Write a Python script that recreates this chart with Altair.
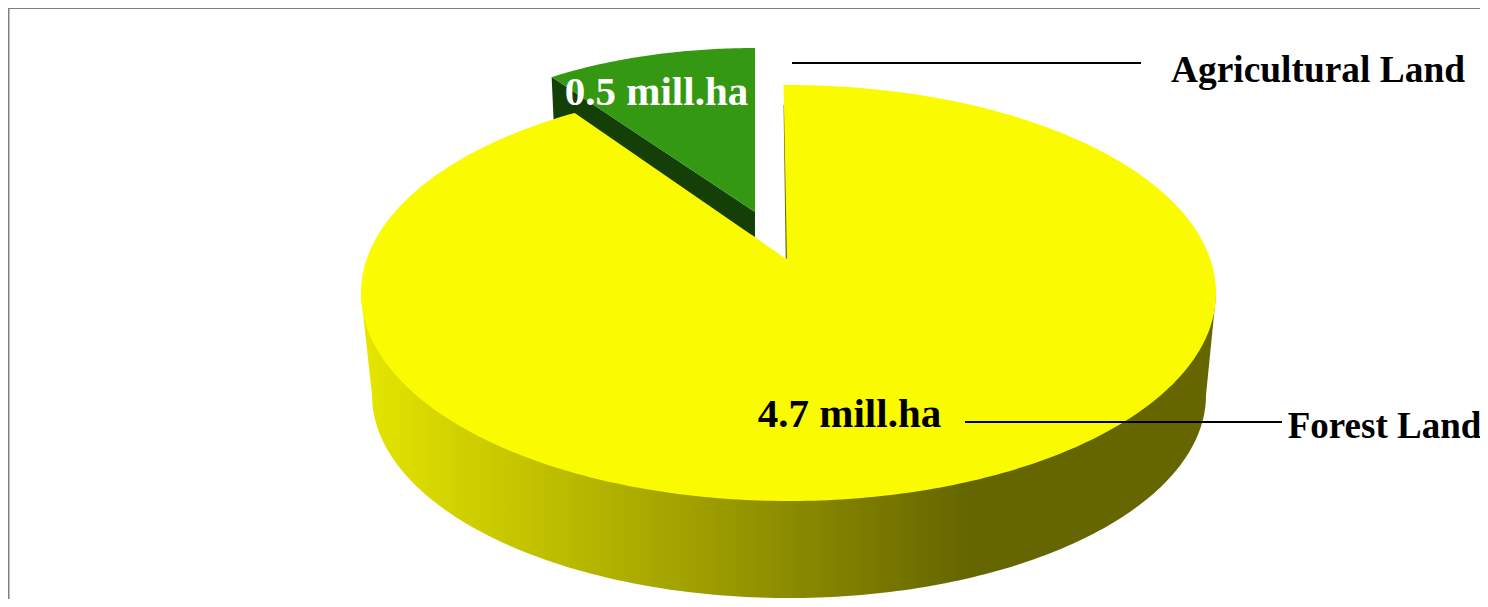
import math
import altair as alt
import pandas as pd

CATEGORIES = ["Forest Land", "Agricultural Land"]
VALUES = [4.7, 0.5]
VALUE_LABELS = [f"{v} mill.ha" for v in VALUES]

YELLOW = "#FAFA00"
GREEN = "#349812"
DARK_GREEN = "#143F07"
OLIVE = "#666600"
FONT = "Liberation Serif"

X = alt.X("x:Q", scale=alt.Scale(domain=[8, 1480], nice=False, zero=False), axis=None)
Y = alt.Y("y:Q", scale=alt.Scale(domain=[599, 8], nice=False, zero=False), axis=None)

share = VALUES[1] / sum(VALUES) * 360  # degrees taken by the pulled-out slice

# tilted top ellipse of the pie
CX, CY, RX, RY = 788.5, 293.0, 427.5, 208.0
AX, AY = 787.0, 259.5  # where the slices meet, seen in perspective
K = RY / RX


def ray_hit(theta):
    """Where the ray leaving the hub at pie angle theta meets the top ellipse."""
    dx, dy = math.sin(theta), -math.cos(theta) * K
    px, py = (AX - CX) / RX, (AY - CY) / RY
    qx, qy = dx / RX, dy / RY
    a = qx * qx + qy * qy
    b = 2 * (px * qx + py * qy)
    c = px * px + py * py - 1
    t = (-b + math.sqrt(b * b - 4 * a * c)) / (2 * a)
    return AX + t * dx, AY + t * dy


def polygon(points):
    return pd.DataFrame(
        [{"x": p[0], "y": p[1], "i": i} for i, p in enumerate(points)]
    )


def shape(points, fill):
    return (
        alt.Chart(polygon(points))
        .mark_line(fill=fill, strokeWidth=0, strokeOpacity=0, interpolate="linear", clip=True)
        .encode(x=X, y=Y, order="i:Q")
    )


# forest slice, top face
start = math.radians(-0.55)
end = start - math.radians(share)
sx, sy = ray_hit(start)
ex, ey = ray_hit(end)
a0 = math.atan2((sy - CY) / RY, (sx - CX) / RX)
a1 = math.atan2((ey - CY) / RY, (ex - CX) / RX)
while a1 < a0:
    a1 += 2 * math.pi
STEPS = 360
forest_top = [(AX, AY)] + [
    (
        CX + RX * math.cos(a0 + (a1 - a0) * n / STEPS),
        CY + RY * math.sin(a0 + (a1 - a0) * n / STEPS),
    )
    for n in range(STEPS + 1)
]

# forest slice, outer wall
LX, LY, LRX, LRY = 789.0, 395.0, 417.0, 203.0
forest_wall = [(361, 295)] + [
    (
        LX - LRX * math.cos(math.pi * n / 180),
        LY + LRY * math.sin(math.pi * n / 180),
    )
    for n in range(181)
] + [(1216, 295)]

# thin sliver of the cut face beside the gap, showing just left of the yellow edge
forest_cut = [(sx, sy + 20), (AX - 1.3, AY - 2), (AX, AY), (AX, sy + 20)]

# agricultural slice, pulled out
GX, GY, GR, GK = 755.0, 212.0, 358.0, 0.458
theta_g = math.radians(share)
green_top = [(GX, GY)] + [
    (
        GX - GR * math.sin(theta_g * n / 60),
        GY - GR * GK * math.cos(theta_g * n / 60),
    )
    for n in range(61)
]
gx_end, gy_end = green_top[-1]
green_side = [(gx_end, gy_end), (GX, GY), (GX, GY + 25), (gx_end + 2, gy_end + 44)]

wall_fill = alt.Gradient(
    gradient="linear",
    x1=0, x2=1, y1=0, y2=0,
    stops=[
        alt.GradientStop(offset=0, color="#E6E600"),
        alt.GradientStop(offset=0.706, color=OLIVE),
        alt.GradientStop(offset=1, color=OLIVE),
    ],
)

border = pd.DataFrame({"x": [8.5, 8.5], "y": [620, 8], "i": [0, 1]})
border2 = pd.DataFrame({"x": [8.5, 1500], "y": [8, 8], "i": [0, 1]})
frame = [
    alt.Chart(d)
    .mark_line(color="#808080", strokeWidth=2, clip=True)
    .encode(x=X, y=Y, order="i:Q")
    for d in (border, border2)
]

leader_a = pd.DataFrame({"x": [792, 1141], "y": [63, 63], "i": [0, 1]})
leader_f = pd.DataFrame({"x": [965, 1282], "y": [422, 422], "i": [0, 1]})
leaders = [
    alt.Chart(d)
    .mark_line(color="#000000", strokeWidth=2)
    .encode(x=X, y=Y, order="i:Q")
    for d in (leader_a, leader_f)
]

texts = pd.DataFrame(
    {
        "x": [656.5, 849.5, 1318, 1384.5],
        "y": [105, 427, 82, 438],
        "t": [VALUE_LABELS[1], VALUE_LABELS[0], CATEGORIES[1], CATEGORIES[0]],
        "c": ["#FFFFFF", "#000000", "#000000", "#000000"],
        "s": [41, 41, 37.4, 37],
    }
)
labels = (
    alt.Chart(texts)
    .mark_text(font=FONT, fontWeight="bold", align="center", baseline="alphabetic")
    .encode(
        x=X,
        y=Y,
        text="t:N",
        color=alt.Color("c:N", scale=None),
        size=alt.Size("s:Q", scale=None),
    )
)

chart = (
    alt.layer(
        *frame,
        shape(green_side, DARK_GREEN),
        shape(green_top, GREEN),
        shape(forest_wall, wall_fill),
        shape(forest_cut, OLIVE),
        shape(forest_top, YELLOW),
        *leaders,
        labels,
    )
    .properties(width=1472, height=591, padding=0, autosize=alt.AutoSizeParams(type="none"))
    .configure_view(stroke=None)
    .configure(background="#FFFFFF")
)

chart.save("out.html", embed_options={"renderer": "svg", "actions": False})
